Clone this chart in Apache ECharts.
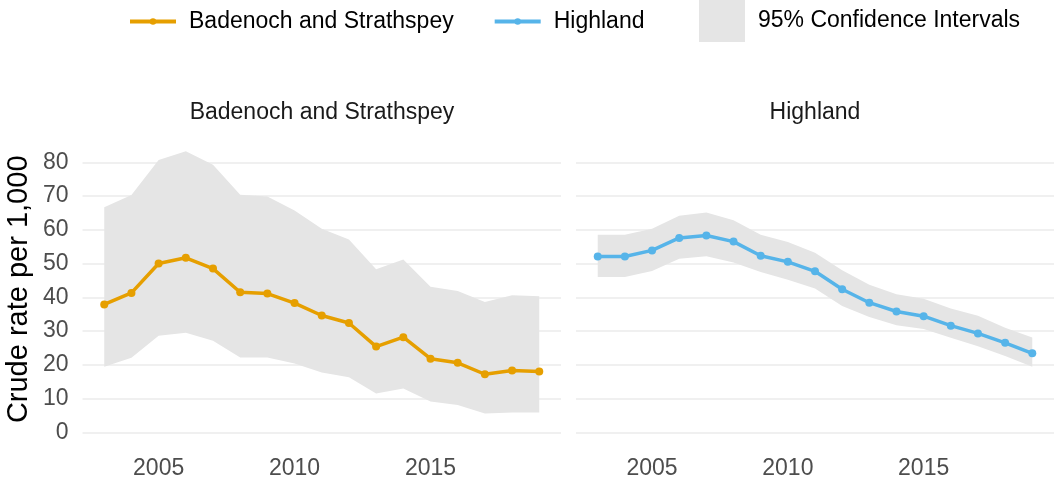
<!DOCTYPE html>
<html>
<head>
<meta charset="utf-8">
<script src="https://cdn.jsdelivr.net/npm/echarts@6/dist/echarts.min.js"></script>
<style>
  html, body { margin: 0; padding: 0; background: #fff; }
</style>
</head>
<body>
<div id="myChart" style="width: 1059px;height: 479px"></div>
<script>
// years on the x axis
var years = [2003, 2004, 2005, 2006, 2007, 2008, 2009, 2010, 2011, 2012, 2013, 2014, 2015, 2016, 2017, 2018, 2019];
var xTicks = [2005, 2010, 2015];
var yTicks = [0, 10, 20, 30, 40, 50, 60, 70, 80];

// Badenoch and Strathspey
var badRate = [37.9, 41.3, 50.0, 51.7, 48.5, 41.5, 41.1, 38.3, 34.6, 32.4, 25.4, 28.2, 21.8, 20.6, 17.2, 18.3, 18.0];
var badUpper = [66.7, 70.3, 80.7, 83.3, 79.3, 70.4, 69.9, 65.7, 60.3, 57.1, 48.3, 51.2, 43.1, 41.9, 38.6, 40.6, 40.3];
var badLower = [19.4, 22.1, 28.6, 29.5, 27.1, 22.2, 22.2, 20.4, 17.7, 16.3, 11.5, 13.0, 9.1, 8.1, 5.6, 5.9, 5.9];

// Highland
var hiRate = [52.1, 52.1, 53.9, 57.6, 58.3, 56.5, 52.3, 50.5, 47.7, 42.4, 38.4, 35.8, 34.4, 31.6, 29.3, 26.5, 23.4];
var hiUpper = [58.5, 58.5, 60.3, 64.2, 65.1, 62.8, 58.5, 56.4, 53.2, 48.0, 43.7, 40.9, 39.6, 36.7, 34.5, 31.0, 28.1];
var hiLower = [46.0, 46.0, 47.8, 51.4, 52.2, 50.3, 47.5, 45.2, 42.6, 37.4, 34.2, 31.7, 30.6, 28.0, 25.5, 22.6, 19.4];

var fontName = 'Liberation Sans';
var ciName = '95% Confidence Intervals';

function pairs(vals) {
  return years.map(function (y, i) { return [y, vals[i]]; });
}

// grey band drawn as one polygon through the axis scales
function bandSeries(upper, lower, idx) {
  return {
    name: ciName,
    type: 'custom',
    xAxisIndex: idx,
    yAxisIndex: idx,
    clip: false,
    z: 1,
    silent: true,
    itemStyle: { color: '#e5e5e5' },
    data: [[years[0], lower[0]]],
    renderItem: function (params, api) {
      var pts = [];
      for (var i = 0; i < years.length; i++) pts.push(api.coord([years[i], upper[i]]));
      for (var j = years.length - 1; j >= 0; j--) pts.push(api.coord([years[j], lower[j]]));
      return {
        type: 'polygon',
        shape: { points: pts },
        style: { fill: '#e5e5e5' }
      };
    }
  };
}

function lineSeries(name, vals, color, idx) {
  return {
    name: name,
    type: 'line',
    xAxisIndex: idx,
    yAxisIndex: idx,
    clip: false,
    z: 3,
    data: pairs(vals),
    symbol: 'circle',
    symbolSize: 8,
    itemStyle: { color: color },
    lineStyle: { color: color, width: 3.5 }
  };
}

function xAxisFor(idx) {
  return {
    type: 'value',
    gridIndex: idx,
    min: 2002.2,
    max: 2019.8,
    axisLine: { show: false },
    axisTick: { show: false },
    splitLine: { show: false },
    axisLabel: {
      customValues: xTicks,
      formatter: function (v) { return String(v); },
      margin: 25,
      color: '#4d4d4d',
      fontSize: 23,
      fontFamily: fontName
    }
  };
}

function yAxisFor(idx) {
  return {
    type: 'value',
    gridIndex: idx,
    min: yTicks[0],
    max: yTicks[yTicks.length - 1],
    interval: 10,
    name: idx === 0 ? 'Crude rate per 1,000' : '',
    nameLocation: 'middle',
    nameGap: 49,
    nameTextStyle: { color: '#000', fontSize: 29, fontFamily: fontName, padding: [0, 0, 0, 16] },
    axisLine: { show: false },
    axisTick: { show: false },
    axisLabel: {
      show: idx === 0,
      margin: 14,
      color: '#4d4d4d',
      fontSize: 23,
      fontFamily: fontName
    },
    splitLine: { lineStyle: { color: '#ebebeb', width: 1.6 } }
  };
}

var myChart = echarts.init(document.getElementById('myChart'));
myChart.setOption({
  animation: false,
  textStyle: { fontFamily: fontName },
  title: [
    { text: 'Badenoch and Strathspey', left: 317, top: 96, textAlign: 'center',
      textStyle: { fontSize: 23, fontWeight: 'normal', color: '#1a1a1a' } },
    { text: 'Highland', left: 810, top: 96, textAlign: 'center',
      textStyle: { fontSize: 23, fontWeight: 'normal', color: '#1a1a1a' } }
  ],
  legend: [
    {
      data: ['Badenoch and Strathspey', 'Highland'],
      left: 128,
      top: 10,
      padding: 0,
      itemWidth: 46,
      itemHeight: 8,
      itemGap: 39,
      lineStyle: { width: 4 },
      textStyle: { fontSize: 23, color: '#000', padding: [0, 0, 0, 8] }
    },
    {
      data: [{ name: ciName, icon: 'rect' }],
      left: 699,
      top: 0,
      padding: 0,
      itemWidth: 46,
      itemHeight: 42,
      textStyle: { fontSize: 23, color: '#000', padding: [0, 0, 0, 8] }
    }
  ],
  grid: [
    { left: 82.5, width: 478.5, top: 162.3, height: 270, outerBoundsMode: 'none' },
    { left: 576, width: 478, top: 162.3, height: 270, outerBoundsMode: 'none' }
  ],
  xAxis: [xAxisFor(0), xAxisFor(1)],
  yAxis: [yAxisFor(0), yAxisFor(1)],
  series: [
    bandSeries(badUpper, badLower, 0),
    bandSeries(hiUpper, hiLower, 1),
    lineSeries('Badenoch and Strathspey', badRate, '#E69F00', 0),
    lineSeries('Highland', hiRate, '#56B4E9', 1)
  ]
});
</script>
</body>
</html>
